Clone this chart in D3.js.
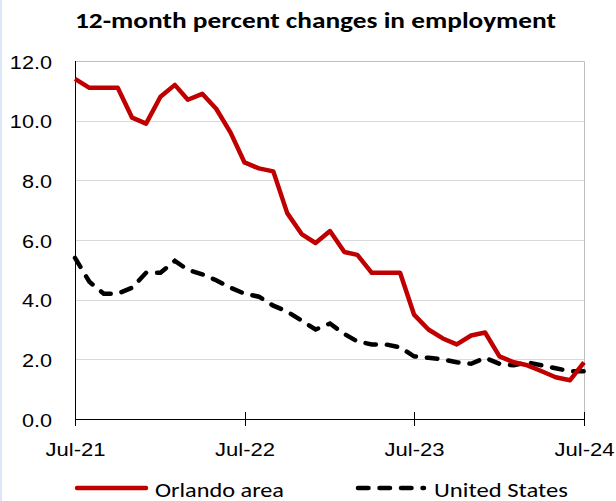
<!DOCTYPE html>
<meta charset="utf-8">
<style>
body {
    margin: 0;
    background: white;
}

svg {
    font-family: Carlito, Calibri, Lato, sans-serif;
}

.title {
    font-size: 22.5px;
    font-weight: bold;
}

.axis text {
    font-size: 19px;
    fill: #000;
}

.axis path,
.axis line {
    stroke: #000;
    shape-rendering: crispEdges;
}

.grid line {
    stroke: #d9d9d9;
    shape-rendering: crispEdges;
}

.legend text {
    font-size: 21px;
}
</style>

<body>
    <script src="https://d3js.org/d3.v7.min.js"></script>
    <script>
    // monthly 12-month percent changes, Jul-21 .. Jul-24
    var startMonth = "2021-07";
    var orlando = [11.4, 11.1, 11.1, 11.1, 10.1, 9.9, 10.8, 11.2, 10.7, 10.9, 10.4, 9.6,
        8.6, 8.4, 8.3, 6.9, 6.2, 5.9, 6.3, 5.6, 5.5, 4.9, 4.9, 4.9,
        3.5, 3.0, 2.7, 2.5, 2.8, 2.9, 2.1, 1.9, 1.8, 1.6, 1.4, 1.3, 1.9];
    var unitedStates = [5.4, 4.6, 4.2, 4.2, 4.4, 4.9, 4.9, 5.3, 5.0, 4.85, 4.65, 4.4,
        4.2, 4.1, 3.8, 3.6, 3.3, 3.0, 3.2, 2.85, 2.6, 2.5, 2.5, 2.4,
        2.1, 2.05, 2.0, 1.9, 1.85, 2.05, 1.85, 1.8, 1.9, 1.8, 1.7, 1.6, 1.6];
    var yTicks = [0, 2, 4, 6, 8, 10, 12];
    var seriesNames = ["Orlando area", "United States"];

    var width = 616, height = 501;
    var margin = { top: 61, right: 32, bottom: 82, left: 75 };
    var w = width - margin.left - margin.right,
        h = height - margin.top - margin.bottom;

    // the reference text is a bit wider than the fallback font, so widen it
    function widen(sel, k) {
        sel.each(function() {
            var len = this.getComputedTextLength();
            d3.select(this)
                .attr("textLength", len * k)
                .attr("lengthAdjust", "spacingAndGlyphs");
        });
    }

    var parseMonth = d3.timeParse("%Y-%m");
    var t0 = parseMonth(startMonth);
    var dates = orlando.map(function(d, i) { return d3.timeMonth.offset(t0, i); });

    var x = d3.scaleTime()
        .domain([dates[0], dates[dates.length - 1]])
        .range([0, w]);

    var y = d3.scaleLinear()
        .domain([0, 12])
        .range([h, 0]);

    var svg = d3.select("body")
        .append("svg")
        .attr("width", width)
        .attr("height", height);

    // light blue strip on the left edge
    svg.append("rect")
        .attr("x", 0).attr("y", 0)
        .attr("width", 2).attr("height", height)
        .attr("fill", "#dbe6f6");

    svg.append("text")
        .attr("class", "title")
        .attr("x", 315.5)
        .attr("y", 28)
        .attr("text-anchor", "middle")
        .attr("textLength", 481)
        .attr("lengthAdjust", "spacingAndGlyphs")
        .text("12-month percent changes in employment");

    var g = svg.append("g")
        .attr("transform", "translate(" + margin.left + "," + margin.top + ")");

    // gridlines
    g.append("g")
        .attr("class", "grid")
        .call(d3.axisLeft(y).tickValues(yTicks).tickSize(-w).tickFormat(""))
        .call(function(s) { s.select(".domain").remove(); });

    // plot border (top + right)
    g.append("path")
        .attr("d", "M0,0.5H" + (w + 0.5) + "V" + h)
        .attr("fill", "none")
        .attr("stroke", "#bfbfbf")
        .attr("stroke-width", 1);

    // y axis
    var ya = g.append("g")
        .attr("class", "axis")
        .call(d3.axisLeft(y).tickValues(yTicks).tickSize(0).tickPadding(23)
            .tickFormat(d3.format(".1f")));
    ya.select(".domain").attr("d", "M0.5,0V" + h);
    ya.selectAll("text").attr("dy", "0.38em").call(widen, 1.14);

    // x axis
    var xTickDates = dates.filter(function(d) { return d.getMonth() === 6; });
    var xa = g.append("g")
        .attr("class", "axis")
        .attr("transform", "translate(0," + h + ")")
        .call(d3.axisBottom(x).tickValues(xTickDates).tickSize(7).tickPadding(17)
            .tickFormat(d3.timeFormat("%b-%y")));
    xa.select(".domain").attr("d", "M0," + 0.5 + "H" + w);
    xa.selectAll(".tick line")
        .attr("y1", function(d, i) { return i === 0 ? 0 : -7; });
    xa.selectAll("text").call(widen, 1.16);

    var line = d3.line()
        .x(function(d, i) { return x(dates[i]); })
        .y(function(d) { return y(d); });

    g.append("path")
        .datum(unitedStates)
        .attr("d", line)
        .attr("fill", "none")
        .attr("stroke", "#000")
        .attr("stroke-width", 4.5)
        .attr("stroke-dasharray", "10.5,11")
        .attr("stroke-linecap", "round");

    g.append("path")
        .datum(orlando)
        .attr("d", line)
        .attr("fill", "none")
        .attr("stroke", "#c00000")
        .attr("stroke-width", 4.5)
        .attr("stroke-linejoin", "round");

    // legend
    var legend = svg.append("g").attr("class", "legend");
    legend.append("line")
        .attr("x1", 77).attr("x2", 146).attr("y1", 488).attr("y2", 488)
        .attr("stroke", "#c00000").attr("stroke-width", 4.5)
        .attr("stroke-linecap", "round");
    legend.append("text")
        .attr("x", 155).attr("y", 496.5)
        .attr("textLength", 129)
        .attr("lengthAdjust", "spacingAndGlyphs")
        .text(seriesNames[0]);
    legend.append("line")
        .attr("x1", 358).attr("x2", 424).attr("y1", 488).attr("y2", 488)
        .attr("stroke", "#000").attr("stroke-width", 4.5)
        .attr("stroke-dasharray", "10.5,11")
        .attr("stroke-linecap", "round");
    legend.append("text")
        .attr("x", 434).attr("y", 496.5)
        .attr("textLength", 134)
        .attr("lengthAdjust", "spacingAndGlyphs")
        .text(seriesNames[1]);
    </script>
</body>
